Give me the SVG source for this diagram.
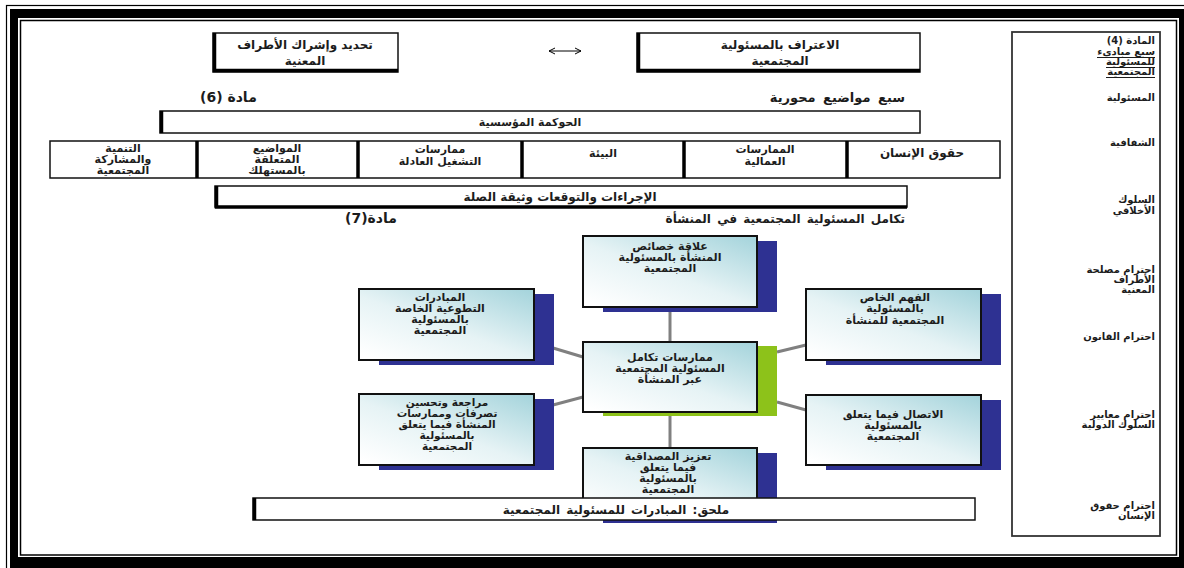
<svg xmlns="http://www.w3.org/2000/svg" width="1184" height="568" viewBox="0 0 1184 568">
  <defs>
    <linearGradient id="tint" x1="1" y1="0" x2="0.1" y2="1">
      <stop offset="0" stop-color="#a3d3db"/>
      <stop offset="0.55" stop-color="#e6f3f5"/>
      <stop offset="1" stop-color="#ffffff"/>
    </linearGradient>
    <marker id="tip" viewBox="0 0 8 8" refX="7" refY="4" markerWidth="8" markerHeight="8" orient="auto-start-reverse" markerUnits="userSpaceOnUse">
      <path d="M1,1 L7,4 L1,7" fill="none" stroke="#000" stroke-width="1"/>
    </marker>
  </defs>
  <style>
    .t { font-family: "DejaVu Sans", sans-serif; font-weight: bold; fill: #1c1c1c; }
    .c { text-anchor: middle; }
    .r { text-anchor: end; }
    .s10 { font-size: 10px; }
    .s105 { font-size: 10.5px; }
    .s11 { font-size: 11px; }
    .s12 { font-size: 12px; }
    .s13 { font-size: 13px; }
    .s14 { font-size: 14px; }
    .box { fill: #fff; stroke: #111; stroke-width: 1.5; }
    .edge { stroke: #000; stroke-width: 3.5; fill: none; }
    .hub { fill: url(#tint); stroke: #111; stroke-width: 2; }
    .navy { fill: #2e3192; }
    .lime { fill: #8dc21a; }
    .link { stroke: #808080; stroke-width: 3; fill: none; }
    .ul { stroke: #1c1c1c; stroke-width: 1.2; }
  </style>

  <!-- page frame -->
  <rect x="0" y="0" width="1184" height="568" fill="#fff"/>
  <rect x="6.5" y="5.5" width="1190" height="580" fill="none" stroke="#000" stroke-width="1.2"/>
  <path d="M10,9 H1190 V575 H10 Z M18,18 V557 H1179 V18 Z" fill="#000" fill-rule="evenodd"/>
  <rect x="20.5" y="20.5" width="1156" height="534.5" fill="none" stroke="#000" stroke-width="1.5"/>

  <!-- top row -->
  <g id="n-identify">
    <rect class="box" x="213" y="33" width="185" height="39"/>
    <path class="edge" d="M214.5,33 V70.5 H398"/>
    <text class="t c s12" x="305" y="49">تحديد وإشراك الأطراف</text>
    <text class="t c s12" x="305" y="65">المعنية</text>
  </g>
  <g id="n-recognize">
    <rect class="box" x="637" y="33" width="283" height="39"/>
    <path class="edge" d="M638.5,33 V70.5 H920"/>
    <text class="t c s12" x="780" y="49">الاعتراف بالمسئولية</text>
    <text class="t c s12" x="780" y="65">المجتمعية</text>
  </g>

  <!-- section labels -->
  <g id="labels">
    <text class="t s14" x="200" y="102" letter-spacing="1">(6) مادة</text>
    <text class="t r s13" x="905" y="102" word-spacing="3">سبع مواضيع محورية</text>
    <text class="t s14" x="345" y="223" letter-spacing="1">(7)مادة</text>
    <text class="t r s12" x="905" y="223" word-spacing="2">تكامل المسئولية المجتمعية في المنشأة</text>
  </g>

  <g id="n-governance">
    <rect class="box" x="160" y="111" width="760" height="22"/>
    <path class="edge" d="M161.5,111 V133"/>
    <text class="t c s11" x="530" y="126">الحوكمة المؤسسية</text>
  </g>

  <!-- core subjects row -->
  <g id="n-subjects">
    <rect class="box" x="50" y="141" width="950" height="37"/>
    <path class="edge" d="M197,141 V178 M358,141 V178 M522,141 V178 M684,141 V178 M847,141 V178"/>
    <text class="t c s11" x="123" y="152">التنمية</text>
    <text class="t c s11" x="123" y="163">والمشاركة</text>
    <text class="t c s11" x="123" y="174">المجتمعية</text>
    <text class="t c s11" x="277" y="152">المواضيع</text>
    <text class="t c s11" x="277" y="163">المتعلقة</text>
    <text class="t c s11" x="277" y="174">بالمستهلك</text>
    <text class="t c s11" x="440" y="153">ممارسات</text>
    <text class="t c s11" x="440" y="165">التشغيل العادلة</text>
    <text class="t c s11" x="603" y="157">البيئة</text>
    <text class="t c s11" x="765" y="153">الممارسات</text>
    <text class="t c s11" x="765" y="165">العمالية</text>
    <text class="t c s12" x="922" y="157">حقوق الإنسان</text>
  </g>

  <g id="n-procedures">
    <rect class="box" x="215" y="186" width="692" height="21"/>
    <path class="edge" d="M216.5,186 V207 H907"/>
    <text class="t c s12" x="560" y="201">الإجراءات والتوقعات وثيقة الصلة</text>
  </g>

  <!-- hub connectors -->
  <g id="connectors">
    <path class="link" d="M670,307 V342"/>
    <path class="link" d="M670,412 V448"/>
    <path class="link" d="M553,348 L583,357"/>
    <path class="link" d="M553,405 L583,397"/>
    <path class="link" d="M777,352 L806,345"/>
    <path class="link" d="M777,402 L806,410"/>
  </g>

  <!-- hub nodes -->
  <g id="n-characteristics">
    <rect class="navy" x="603" y="241" width="174" height="71"/>
    <rect class="hub" x="583" y="236" width="174" height="71"/>
    <text class="t c s11" x="670" y="250">علاقة خصائص</text>
    <text class="t c s11" x="670" y="261">المنشأة بالمسئولية</text>
    <text class="t c s11" x="670" y="272">المجتمعية</text>
  </g>
  <g id="n-voluntary">
    <rect class="navy" x="379" y="294" width="175" height="71"/>
    <rect class="hub" x="359" y="289" width="175" height="71"/>
    <text class="t c s11" x="440" y="301">المبادرات</text>
    <text class="t c s11" x="440" y="312">التطوعية الخاصة</text>
    <text class="t c s11" x="440" y="323">بالمسئولية</text>
    <text class="t c s11" x="440" y="334">المجتمعية</text>
  </g>
  <g id="n-understanding">
    <rect class="navy" x="826" y="294" width="175" height="71"/>
    <rect class="hub" x="806" y="289" width="175" height="71"/>
    <text class="t c s11" x="895" y="301">الفهم الخاص</text>
    <text class="t c s11" x="895" y="312">بالمسئولية</text>
    <text class="t c s11" x="895" y="324">المجتمعية للمنشأة</text>
  </g>
  <g id="n-practices">
    <rect class="lime" x="603" y="346" width="174" height="70"/>
    <rect class="hub" x="583" y="342" width="174" height="70"/>
    <text class="t c s11" x="670" y="361">ممارسات تكامل</text>
    <text class="t c s11" x="670" y="372">المسئولية المجتمعية</text>
    <text class="t c s11" x="670" y="383">عبر المنشأة</text>
  </g>
  <g id="n-review">
    <rect class="navy" x="379" y="399" width="175" height="71"/>
    <rect class="hub" x="359" y="394" width="175" height="71"/>
    <text class="t c s105" x="447" y="406">مراجعة وتحسين</text>
    <text class="t c s105" x="447" y="417">تصرفات وممارسات</text>
    <text class="t c s105" x="447" y="428">المنشأة فيما يتعلق</text>
    <text class="t c s105" x="447" y="439">بالمسئولية</text>
    <text class="t c s105" x="447" y="450">المجتمعية</text>
  </g>
  <g id="n-communication">
    <rect class="navy" x="826" y="400" width="175" height="70"/>
    <rect class="hub" x="806" y="395" width="175" height="70"/>
    <text class="t c s11" x="893" y="418">الاتصال فيما يتعلق</text>
    <text class="t c s11" x="893" y="429">بالمسئولية</text>
    <text class="t c s11" x="893" y="440">المجتمعية</text>
  </g>
  <g id="n-credibility">
    <rect class="navy" x="603" y="453" width="174" height="70"/>
    <rect class="hub" x="583" y="448" width="174" height="70"/>
    <text class="t c s11" x="668" y="460">تعزيز المصداقية</text>
    <text class="t c s11" x="668" y="471">فيما يتعلق</text>
    <text class="t c s11" x="668" y="482">بالمسئولية</text>
    <text class="t c s11" x="668" y="493">المجتمعية</text>
  </g>

  <g id="n-annex">
    <rect class="box" x="253" y="498" width="722" height="22"/>
    <path class="edge" d="M254.5,498 V520"/>
    <text class="t c s12" x="616" y="514" word-spacing="2">ملحق: المبادرات للمسئولية المجتمعية</text>
  </g>

  <!-- principles panel -->
  <g id="n-principles">
    <rect x="1012" y="32" width="148" height="504" fill="#fff" stroke="#333" stroke-width="1.8"/>
    <text class="t r s10" x="1155" y="44">المادة (4)</text>
    <text class="t r s10" x="1155" y="55">سبع مبادىء</text>
    <text class="t r s10" x="1155" y="65">للمسئولية</text>
    <text class="t r s10" x="1155" y="75">المجتمعية</text>
    <path class="ul" d="M1097,57.5 H1155 M1106,67.5 H1155 M1106,77.5 H1155"/>
    <text class="t r s10" x="1155" y="101">المسئولية</text>
    <text class="t r s10" x="1155" y="146">الشفافية</text>
    <text class="t r s10" x="1155" y="203">السلوك</text>
    <text class="t r s10" x="1155" y="214">الأخلاقي</text>
    <text class="t r s10" x="1155" y="273">احترام مصلحة</text>
    <text class="t r s10" x="1155" y="283">الأطراف</text>
    <text class="t r s10" x="1155" y="293">المعنية</text>
    <text class="t r s10" x="1155" y="340">احترام القانون</text>
    <text class="t r s10" x="1155" y="418">احترام معايير</text>
    <text class="t r s10" x="1155" y="428">السلوك الدولية</text>
    <text class="t r s10" x="1155" y="509">احترام حقوق</text>
    <text class="t r s10" x="1155" y="519">الإنسان</text>
  </g>

  <!-- two-way link between the top boxes -->
  <g id="top-link">
    <path d="M549,51 H581" stroke="#000" stroke-width="1" fill="none" marker-start="url(#tip)" marker-end="url(#tip)"/>
  </g>
</svg>
